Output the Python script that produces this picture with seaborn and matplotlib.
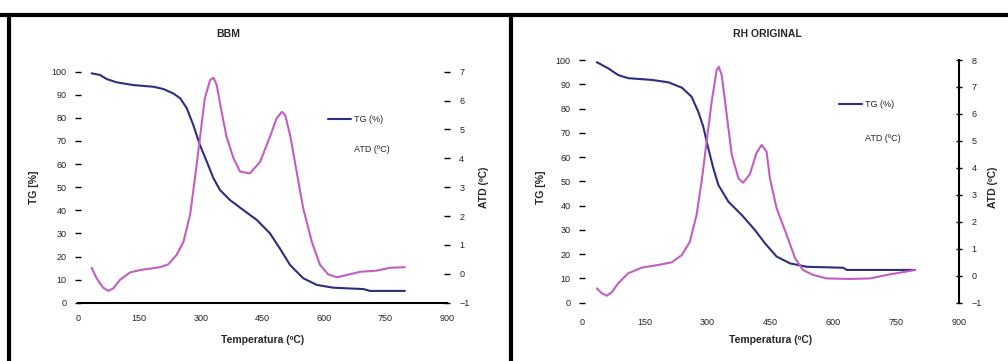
import matplotlib
matplotlib.use('Agg')
import matplotlib.pyplot as plt
import seaborn as sns
import pandas as pd
from matplotlib.lines import Line2D

sns.set_style('white')
plt.rcParams['font.family'] = ['Liberation Sans', 'DejaVu Sans']

# ---------------- data: BBM ----------------
bbm_tg_temp = [34, 54, 71, 95, 136, 184, 209, 233, 250, 266, 282, 298, 315, 331, 347,
               371, 404, 437, 469, 493, 518, 550, 583, 623, 697, 713, 798]
bbm_tg = [99.3, 98.6, 96.8, 95.4, 94.2, 93.5, 92.5, 90.6, 88.5, 84.2, 76.9, 68.3, 61.0,
          53.9, 48.8, 44.5, 40.1, 35.8, 30.0, 23.5, 16.3, 10.6, 7.7, 6.5, 5.9, 5.1, 5.1]
bbm_atd_temp = [34, 46, 62, 75, 87, 103, 128, 152, 201, 221, 241, 258, 274, 286, 298,
                310, 323, 331, 339, 351, 363, 380, 396, 420, 445, 469, 485, 498, 506,
                518, 534, 550, 571, 591, 611, 632, 656, 689, 729, 762, 798]
bbm_atd = [0.21, -0.15, -0.48, -0.59, -0.50, -0.21, 0.05, 0.13, 0.23, 0.33, 0.65, 1.11,
           2.04, 3.31, 4.69, 6.08, 6.71, 6.79, 6.54, 5.61, 4.75, 4.00, 3.54, 3.48, 3.88,
           4.75, 5.38, 5.61, 5.50, 4.81, 3.54, 2.27, 1.11, 0.31, -0.02, -0.12, -0.04,
           0.07, 0.11, 0.21, 0.23]

# ---------------- data: RH ORIGINAL ----------------
rh_tg_temp = [36, 63, 87, 111, 167, 207, 239, 262, 278, 290, 302, 314, 326, 350, 382,
              413, 437, 465, 497, 537, 624, 632, 795]
rh_tg = [99.1, 96.6, 93.8, 92.5, 91.8, 90.8, 88.6, 84.9, 78.7, 72.5, 63.6, 55.4, 48.5,
         41.6, 36.1, 30.0, 24.5, 19.0, 16.2, 14.8, 14.4, 13.5, 13.5]
rh_atd_temp = [36, 48, 60, 72, 87, 111, 143, 183, 215, 239, 258, 274, 286, 298, 310,
               322, 327, 334, 346, 358, 374, 385, 401, 417, 429, 441, 449, 465, 489,
               509, 528, 552, 584, 640, 688, 728, 795]
rh_atd = [-0.47, -0.65, -0.74, -0.61, -0.28, 0.09, 0.30, 0.40, 0.50, 0.77, 1.26, 2.25,
          3.49, 4.97, 6.45, 7.63, 7.75, 7.44, 5.96, 4.48, 3.61, 3.45, 3.76, 4.55, 4.85,
          4.60, 3.61, 2.50, 1.51, 0.65, 0.21, 0.03, -0.10, -0.12, -0.10, 0.03, 0.21]

titles = ['BBM', 'RH ORIGINAL']
x_ticks = [0, 150, 300, 450, 600, 750, 900]
tg_ticks = list(range(0, 101, 10))
atd_ticks_left = list(range(-1, 8))
atd_ticks_right = list(range(-1, 9))
tg_label = 'TG [%]'
atd_label = 'ATD (ºC)'
x_label = 'Temperatura (ºC)'
legend_labels = ['TG (%)', 'ATD (ºC)']

TG_COLOR = '#2e2d80'
ATD_COLOR = '#c25ec2'

W, H = 1008, 361
fig = plt.figure(figsize=(W / 100, H / 100), dpi=100)


def fx(px):
    return px / W


def fy(py):
    return 1 - py / H


# frame lines
for seg in [((0, 1), (fy(14.5), fy(14.5))), ((fx(9), fx(9)), (0, fy(14.5))),
            ((fx(511), fx(511)), (0, fy(14.5)))]:
    fig.add_artist(Line2D(seg[0], seg[1], transform=fig.transFigure, lw=3, color='black'))

panels = [
    dict(rect=(77.7, 71.7, 446.7, 302.7), tgT=bbm_tg_temp, tg=bbm_tg, atT=bbm_atd_temp,
         at=bbm_atd, atd_ticks=atd_ticks_left, title_x=228, leg=(328, 115), lsp=2.3,
         ylab_x=34, atdlab_x=484, bottom_spine=True, right_spine=False),
    dict(rect=(581.7, 60, 959, 302.7), tgT=rh_tg_temp, tg=rh_tg, atT=rh_atd_temp,
         at=rh_atd, atd_ticks=atd_ticks_right, title_x=767, leg=(839, 100), lsp=2.75,
         ylab_x=541, atdlab_x=993, bottom_spine=False, right_spine=True),
]

tick_kw = dict(labelsize=6.5, labelcolor='#222222', colors='black')

for i, p in enumerate(panels):
    x0, y0, x1, y1 = p['rect']
    ax = fig.add_axes([fx(x0), fy(y1), fx(x1) - fx(x0), fy(y0) - fy(y1)])
    ax.set_facecolor('none')
    df_tg = pd.DataFrame({'T': p['tgT'], 'v': p['tg']})
    sns.lineplot(data=df_tg, x='T', y='v', ax=ax, sort=False, color=TG_COLOR, lw=1.5,
                 estimator=None)
    ax.set_xlim(0, 900)
    ax.set_ylim(0, 100)
    ax.set_xticks(x_ticks)
    ax.set_yticks(tg_ticks)
    ax.tick_params(axis='y', direction='inout', length=4, width=1, pad=6, **tick_kw)
    ax.tick_params(axis='x', direction='out', length=3 if not p['bottom_spine'] else 0,
                   width=1, pad=8, **tick_kw)
    ax.set_xlabel('')
    ax.set_ylabel('')
    for s in ['left', 'right', 'top']:
        ax.spines[s].set_visible(False)
    ax.spines['bottom'].set_visible(p['bottom_spine'])
    ax.spines['bottom'].set_color('black')
    ax.spines['bottom'].set_linewidth(1.5)

    ax2 = ax.twinx()
    df_at = pd.DataFrame({'T': p['atT'], 'v': p['at']})
    sns.lineplot(data=df_at, x='T', y='v', ax=ax2, sort=False, color=ATD_COLOR, lw=1.5,
                 estimator=None)
    ax2.set_ylim(p['atd_ticks'][0], p['atd_ticks'][-1])
    ax2.set_yticks(p['atd_ticks'])
    ax2.tick_params(axis='y', direction='inout', length=4, width=1, pad=7, **tick_kw)
    ax2.set_ylabel('')
    for s in ['left', 'top', 'bottom']:
        ax2.spines[s].set_visible(False)
    ax2.spines['right'].set_visible(p['right_spine'])
    ax2.spines['right'].set_color('black')
    ax2.spines['right'].set_linewidth(1.5)

    # texts
    fig.text(fx(p['title_x']), fy(34), titles[i], ha='center', va='center',
             fontsize=7.5, fontweight='bold')
    fig.text(fx((x0 + x1) / 2), fy(340), x_label, ha='center', va='center',
             fontsize=7.5, fontweight='bold')
    fig.text(fx(p['ylab_x']), fy(187), tg_label, ha='center', va='center',
             rotation=90, fontsize=7.5, fontweight='bold')
    fig.text(fx(p['atdlab_x']), fy(187), atd_label, ha='center', va='center',
             rotation=90, fontsize=7.5, fontweight='bold')

    # legend
    handles = [Line2D([0], [0], color=TG_COLOR, lw=1.5),
               Line2D([0], [0], color='none', lw=1.5)]
    lx, ly = p['leg']
    ax.legend(handles, legend_labels, loc='upper left',
              bbox_to_anchor=(fx(lx), fy(ly)), bbox_transform=fig.transFigure,
              frameon=False, fontsize=6.5, handlelength=2.6, handletextpad=0.3,
              labelspacing=p['lsp'], borderpad=0, borderaxespad=0)

fig.savefig('out.png', dpi=100)
